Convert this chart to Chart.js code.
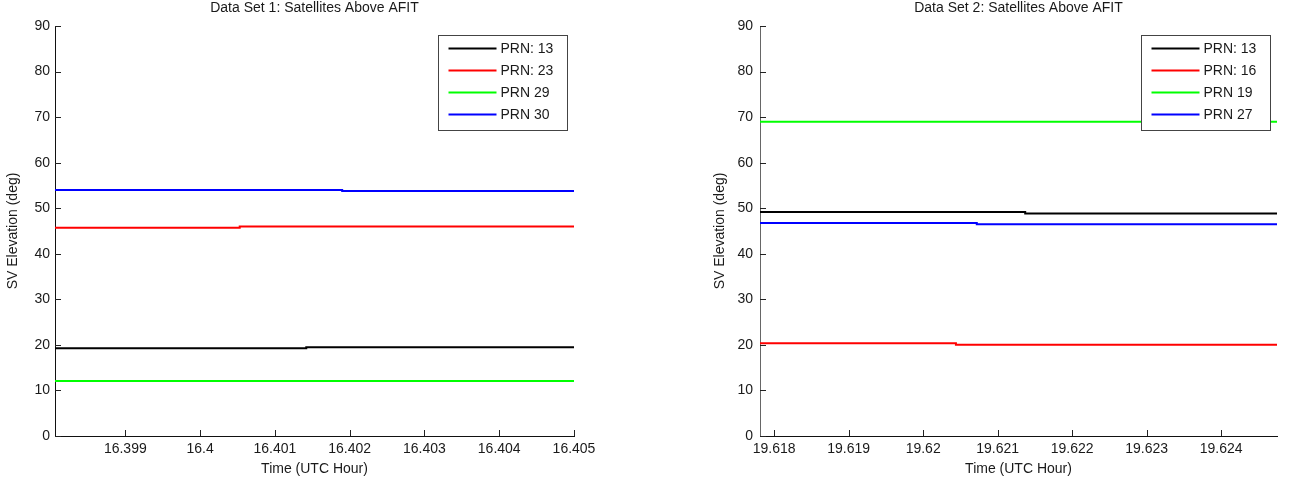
<!DOCTYPE html>
<html>
<head>
<meta charset="utf-8">
<script src="https://cdn.jsdelivr.net/npm/chart.js@4.4.0/dist/chart.umd.min.js"></script>
<style>
    body { margin: 0; background: #fff; width: 1303px; height: 487px; overflow: hidden; position: relative; }
    .plot { position: absolute; top: 0; }
</style>
</head>
<body>
<div class="plot" style="left:0px"><canvas id="set1" width="650" height="487"></canvas></div>
<div class="plot" style="left:700px"><canvas id="set2" width="603" height="487"></canvas></div>
<script>
// Elevation axis (both plots)
const elevTicks = [0, 10, 20, 30, 40, 50, 60, 70, 80, 90];
const lineColors = ['#000000', '#ff0000', '#00ff00', '#0000ff'];

// Data set 1
const set1Title = 'Data Set 1: Satellites Above AFIT';
const set1Range = [16.39806, 16.405];
const set1Ticks = [16.399, 16.4, 16.401, 16.402, 16.403, 16.404, 16.405];
const set1TickLabels = ['16.399', '16.4', '16.401', '16.402', '16.403', '16.404', '16.405'];
const set1Labels = ['PRN: 13', 'PRN: 23', 'PRN 29', 'PRN 30'];
const set1Prn13Time = [16.39806, 16.40142, 16.405];
const set1Prn13Elev = [19.25, 19.5, 19.5];
const set1Prn23Time = [16.39806, 16.40053, 16.405];
const set1Prn23Elev = [45.7, 46.0, 46.0];
const set1Prn29Time = [16.39806, 16.405];
const set1Prn29Elev = [12.1, 12.1];
const set1Prn30Time = [16.39806, 16.4019, 16.405];
const set1Prn30Elev = [54.0, 53.8, 53.8];

// Data set 2
const set2Title = 'Data Set 2: Satellites Above AFIT';
const set2Range = [19.61781, 19.62475];
const set2Ticks = [19.618, 19.619, 19.62, 19.621, 19.622, 19.623, 19.624];
const set2TickLabels = ['19.618', '19.619', '19.62', '19.621', '19.622', '19.623', '19.624'];
const set2Labels = ['PRN: 13', 'PRN: 16', 'PRN 19', 'PRN 27'];
const set2Prn13Time = [19.61781, 19.62137, 19.62475];
const set2Prn13Elev = [49.15, 48.85, 48.85];
const set2Prn16Time = [19.61781, 19.62044, 19.62475];
const set2Prn16Elev = [20.35, 20.05, 20.05];
const set2Prn19Time = [19.61781, 19.62475];
const set2Prn19Elev = [69.0, 69.0];
const set2Prn27Time = [19.61781, 19.62072, 19.62475];
const set2Prn27Elev = [46.75, 46.5, 46.5];

const FONT = 'Arial, "Liberation Sans", sans-serif';
const TEXT = '#1a1a1a';

function toPoints(times, elevs) {
    return times.map((t, i) => ({ x: t, y: elevs[i] }));
}

// MATLAB style ticks pointing into the plot
const inwardTicks = {
    id: 'inwardTicks',
    beforeDatasetsDraw(chart) {
        const { ctx, chartArea, scales } = chart;
        ctx.save();
        ctx.beginPath();
        ctx.strokeStyle = '#222';
        ctx.lineWidth = 1;
        scales.y.ticks.forEach(t => {
            const y = Math.round(scales.y.getPixelForValue(t.value)) + 0.5;
            ctx.moveTo(chartArea.left, y);
            ctx.lineTo(chartArea.left + 6, y);
        });
        scales.x.ticks.forEach(t => {
            const x = Math.round(scales.x.getPixelForValue(t.value)) + 0.5;
            ctx.moveTo(x, chartArea.bottom);
            ctx.lineTo(x, chartArea.bottom - 6);
        });
        ctx.stroke();
        ctx.restore();
    }
};

// boxed legend in the top right corner of the axes
const boxLegend = {
    id: 'boxLegend',
    afterDraw(chart) {
        const { ctx, chartArea } = chart;
        const w = 129, h = 95;
        const left = Math.round(chartArea.right - 7 - w) + 0.5;
        const top = Math.round(chartArea.top + 9) + 0.5;
        ctx.save();
        ctx.fillStyle = '#fff';
        ctx.fillRect(left, top, w, h);
        ctx.strokeStyle = '#444';
        ctx.lineWidth = 1;
        ctx.strokeRect(left, top, w, h);
        ctx.font = '14px ' + FONT;
        ctx.textBaseline = 'middle';
        chart.data.datasets.forEach((ds, i) => {
            const y = top + 13 + i * 22;
            ctx.beginPath();
            ctx.strokeStyle = ds.borderColor;
            ctx.lineWidth = 2;
            ctx.moveTo(left + 10, y);
            ctx.lineTo(left + 58, y);
            ctx.stroke();
            ctx.fillStyle = TEXT;
            ctx.fillText(ds.label, left + 62, y + 1);
        });
        ctx.restore();
    }
};

function makeChart(id, opts) {
    const datasets = opts.series.map((s, i) => ({
        label: opts.labels[i],
        data: toPoints(s[0], s[1]),
        borderColor: lineColors[i],
        borderWidth: 2,
        pointRadius: 0,
        stepped: true,
        fill: false
    }));
    return new Chart(document.getElementById(id), {
        type: 'line',
        data: { datasets },
        plugins: [inwardTicks, boxLegend],
        options: {
            responsive: false,
            animation: false,
            layout: { padding: { left: 0, right: opts.padRight, top: 0, bottom: 0 } },
            plugins: {
                legend: { display: false },
                tooltip: { enabled: false },
                title: {
                    display: true,
                    text: opts.title,
                    fullSize: false,
                    color: TEXT,
                    font: { family: FONT, size: 14, weight: 'normal', lineHeight: 1.2 },
                    padding: { top: 0, bottom: 9.2 }
                }
            },
            scales: {
                x: {
                    type: 'linear',
                    min: opts.range[0],
                    max: opts.range[1],
                    afterBuildTicks: scale => { scale.ticks = opts.ticks.map(v => ({ value: v })); },
                    afterFit: scale => { scale.height = 51; },
                    ticks: {
                        color: TEXT,
                        padding: 5,
                        maxRotation: 0,
                        autoSkip: false,
                        font: { family: FONT, size: 14 },
                        callback: (v, i) => opts.tickLabels[i]
                    },
                    grid: { display: true, drawOnChartArea: false, drawTicks: false },
                    border: { display: true, color: '#111', width: 1 },
                    title: {
                        display: true,
                        text: 'Time (UTC Hour)',
                        color: TEXT,
                        font: { family: FONT, size: 14 },
                        padding: { top: 0, bottom: 9.6 }
                    }
                },
                y: {
                    type: 'linear',
                    min: 0,
                    max: 90,
                    afterBuildTicks: scale => { scale.ticks = elevTicks.map(v => ({ value: v })); },
                    afterFit: scale => { scale.width = opts.yWidth; },
                    ticks: {
                        color: TEXT,
                        padding: opts.yPad,
                        font: { family: FONT, size: 14 },
                        callback: v => String(v)
                    },
                    grid: { display: true, drawOnChartArea: false, drawTicks: false },
                    border: { display: true, color: opts.axisColor, width: 1 },
                    title: {
                        display: true,
                        text: 'SV Elevation (deg)',
                        color: TEXT,
                        font: { family: FONT, size: 14 },
                        padding: { top: opts.yTitlePad, bottom: 0 }
                    }
                }
            }
        }
    });
}

makeChart('set1', {
    title: set1Title,
    range: set1Range,
    ticks: set1Ticks,
    tickLabels: set1TickLabels,
    labels: set1Labels,
    series: [
        [set1Prn13Time, set1Prn13Elev],
        [set1Prn23Time, set1Prn23Elev],
        [set1Prn29Time, set1Prn29Elev],
        [set1Prn30Time, set1Prn30Elev]
    ],
    padRight: 76,
    yWidth: 55,
    yPad: 5,
    yTitlePad: 4.6,
    axisColor: '#111'
});

makeChart('set2', {
    title: set2Title,
    range: set2Range,
    ticks: set2Ticks,
    tickLabels: set2TickLabels,
    labels: set2Labels,
    series: [
        [set2Prn13Time, set2Prn13Elev],
        [set2Prn16Time, set2Prn16Elev],
        [set2Prn19Time, set2Prn19Elev],
        [set2Prn27Time, set2Prn27Elev]
    ],
    padRight: 26,
    yWidth: 60,
    yPad: 7,
    yTitlePad: 11.6,
    axisColor: '#666'
});
</script>
</body>
</html>
